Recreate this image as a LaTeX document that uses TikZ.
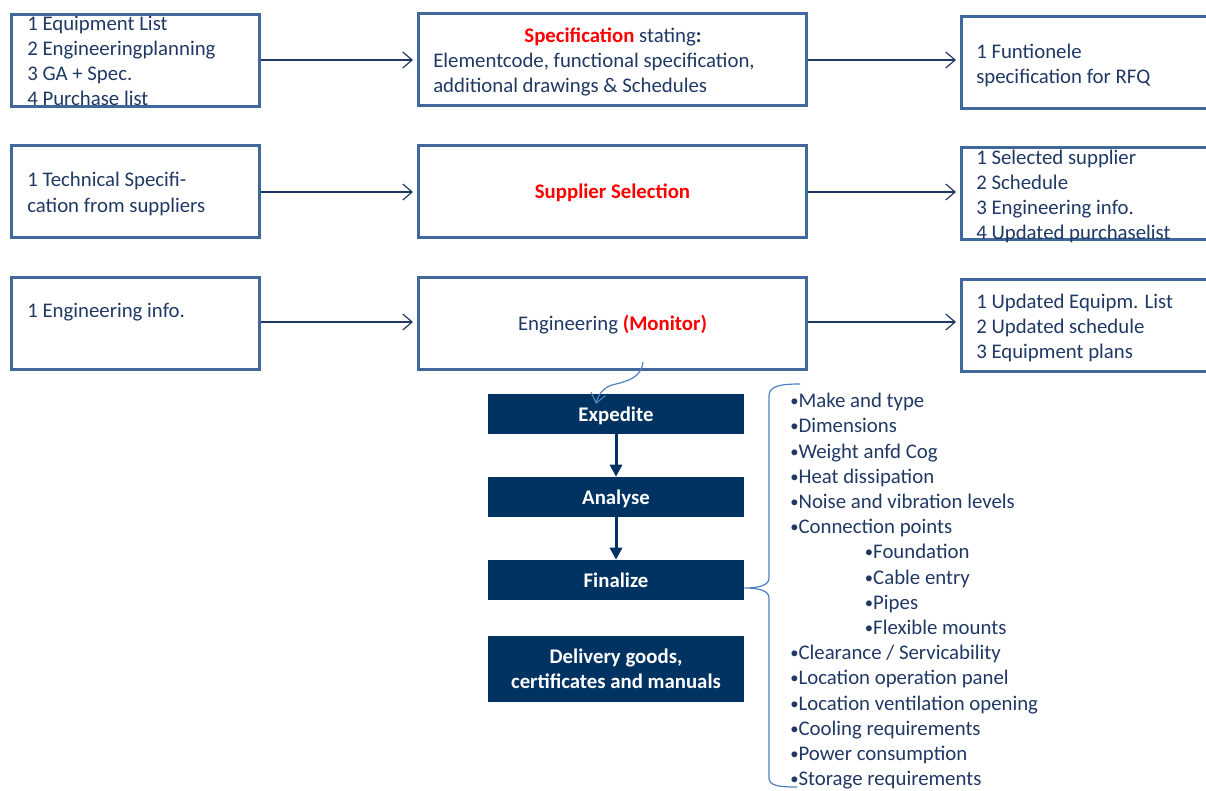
\documentclass[tikz,border=0pt]{standalone}
\usepackage{fontspec}
\setmainfont{Carlito}
\usetikzlibrary{positioning, arrows.meta}
\definecolor{frameblue}{RGB}{65,104,155}
\definecolor{inknavy}{RGB}{31,56,100}
\definecolor{darknavy}{RGB}{0,50,98}
\definecolor{softblue}{RGB}{79,129,189}
\newcommand{\dotmark}{\raisebox{0.8pt}{\scalebox{0.8}{•}}}

\begin{document}
\begin{tikzpicture}[x=0.75pt, y=-0.75pt,
  every node/.style={font=\fontsize{15.6}{18.9}\selectfont, text=inknavy},
  frame/.style={draw=frameblue, line width=2.25pt, rectangle, inner sep=0pt},
  sidebox/.style={frame, minimum width=186pt, minimum height=69pt},
  midbox/.style={frame, minimum width=291pt, minimum height=69pt},
  outbox/.style={frame, minimum width=195pt, minimum height=69pt},
  txt/.style={align=left, anchor=west, inner sep=0pt},
  stepbox/.style={fill=darknavy, text=white, font=\fontsize{15.6}{18.9}\selectfont\bfseries,
    minimum width=192pt, minimum height=30pt, align=center, inner sep=0pt},
  oneline/.style={text height=11pt, text depth=0pt},
  flow/.style={draw=inknavy, line width=0.9pt, shorten >=3pt, -{Straight Barb[length=7pt, width=12pt]}},
  down/.style={draw=darknavy, line width=2.25pt, -{Triangle[length=9pt, width=9pt]}},
  hand/.style={draw=softblue, line width=0.9pt}
]
\clip (0,0) rectangle (1206,790);

% row 1
\node[sidebox] (in1) at (135.5,60) {};
\node[txt] (in1t) at (27,61) {1 Equipment List\\2 Engineeringplanning\\3 GA + Spec.\\4 Purchase list};
\node[midbox] (spec) at (612.5,59.5) {};
\node[inner sep=0pt] (spect) at (613,37) {\textcolor{red}{\textbf{Specification}} stating\textbf{:}};
\node[txt] (specl) at (433,74.5) {Elementcode, functional specification,\\additional drawings \& Schedules};
\node[outbox] (out1) at (1091.5,62.5) {};
\node[txt] (out1t) at (976,65.5) {1 Funtionele\\specification for RFQ};

% row 2
\node[sidebox] (in2) at (135.5,191) {};
\node[txt] (in2t) at (27,194) {1 Technical Specifi-\\cation from suppliers};
\node[midbox] (supp) at (612.5,191) {};
\node[inner sep=0pt] (suppt) at (612.5,193) {\textcolor{red}{\textbf{Supplier Selection}}};
\node[outbox] (out2) at (1091.5,193) {};
\node[txt] (out2t) at (976,196.5) {1 Selected supplier\\2 Schedule\\3 Engineering info.\\4 Updated purchaselist};

% row 3
\node[sidebox] (in3) at (135.5,323.5) {};
\node[txt] (in3t) at (27,312) {1 Engineering info.};
\node[midbox] (eng) at (612.5,323.5) {};
\node[inner sep=0pt] (engt) at (612.5,325) {Engineering \textcolor{red}{\textbf{(Monitor)}}};
\node[outbox] (out3) at (1091.5,325.5) {};
\node[txt] (out3t) at (976,328) {1 Updated Equipm. List\\2 Updated schedule\\3 Equipment plans};

\draw[flow] (in1.east |- 0,60) -- (spec.west |- 0,60);
\draw[flow] (spec.east |- 0,60) -- (out1.west |- 0,60);
\draw[flow] (in2.east |- 0,192) -- (supp.west |- 0,192);
\draw[flow] (supp.east |- 0,192) -- (out2.west |- 0,192);
\draw[flow] (in3.east |- 0,322) -- (eng.west |- 0,322);
\draw[flow] (eng.east |- 0,322) -- (out3.west |- 0,322);

% steps
\node[stepbox, oneline] (exped) at (616,414) {Expedite};
\node[stepbox, oneline] (anal) at (616,497) {Analyse};
\node[stepbox, oneline] (final) at (616,580) {Finalize};
\node[stepbox, minimum height=49.5pt] (deliv) at (616,669) {Delivery goods,\\certificates and manuals};

\draw[down] (exped) -- (anal);
\draw[down] (anal) -- (final);

\coordinate (engfoot) at (643,362);
\coordinate (expedtop) at (596,404);
\draw[hand, -{Straight Barb[length=7pt, width=11pt]}] (engfoot) .. controls (641,378) and (628,381) .. (612,385)
  .. controls (603,388) and (598,395) .. (expedtop);

% requirement list
\node[anchor=north west, align=left, inner sep=0pt] (specs) at (790,393)
  {\dotmark Make and type\\\dotmark Dimensions\\\dotmark Weight anfd Cog\\\dotmark Heat dissipation\\
   \dotmark Noise and vibration levels\\\dotmark Connection points\\\hspace*{56pt}\dotmark Foundation\\
   \hspace*{56pt}\dotmark Cable entry\\\hspace*{56pt}\dotmark Pipes\\\hspace*{56pt}\dotmark Flexible mounts\\
   \dotmark Clearance / Servicability\\\dotmark Location operation panel\\\dotmark Location ventilation opening\\
   \dotmark Cooling requirements\\\dotmark Power consumption\\\dotmark Storage requirements};

\coordinate (bracetip) at (final.east |- 0,588);
\draw[hand] (800,384) .. controls (780,384) and (769,386) .. (769,396) -- (769,578)
  .. controls (769,585) and (760,588) .. (bracetip)
  .. controls (760,588) and (769,591) .. (769,598) -- (769,778)
  .. controls (769,786) and (780,787) .. (797,787);
\end{tikzpicture}
\end{document}
